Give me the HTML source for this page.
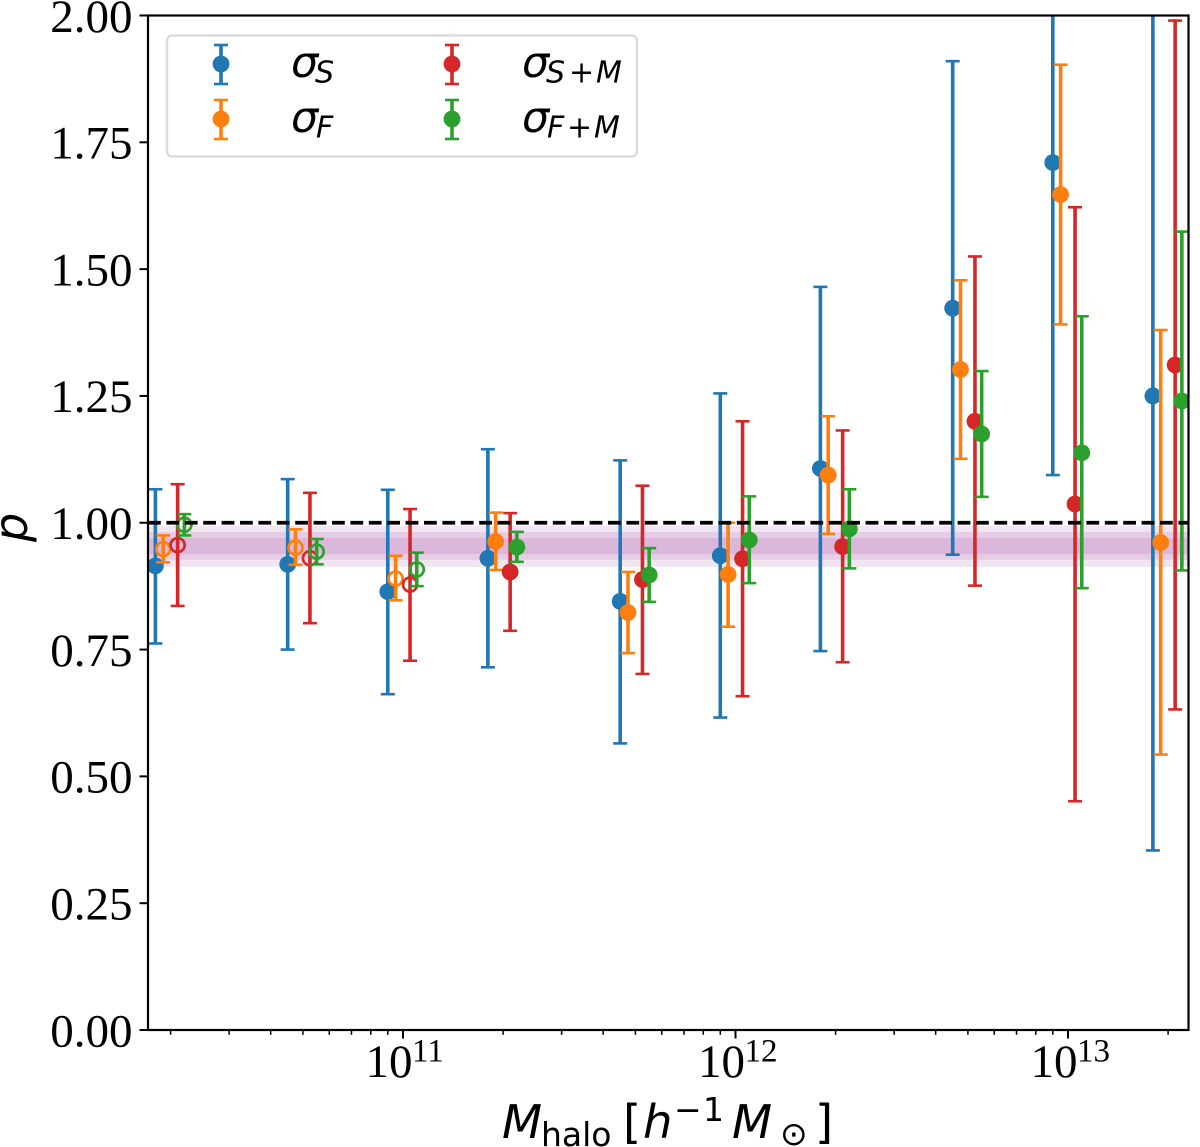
<!DOCTYPE html>
<html lang="en">
<head>
<meta charset="utf-8">
<title>p versus halo mass</title>
<style>
html,body{margin:0;padding:0;background:#fff;width:1200px;height:1147px;overflow:hidden}
svg{display:block}
.tick-label{font-family:"Liberation Serif",serif;font-size:47px;fill:#000}
.tick-exp{font-family:"Liberation Serif",serif;font-size:33px;fill:#000}
.math{font-family:"DejaVu Sans",sans-serif;fill:#000}
.it{font-style:italic}
</style>
</head>
<body>
<svg id="chart" xmlns="http://www.w3.org/2000/svg" width="1200" height="1147" viewBox="0 0 1200 1147">
  <defs>
    <clipPath id="plot-clip"><rect x="148" y="15.5" width="1040.5" height="1014.5"/></clipPath>
  </defs>
  <rect x="0" y="0" width="1200" height="1147" fill="#fff"/>
  <g id="bands" clip-path="url(#plot-clip)"></g>
  <g id="series" clip-path="url(#plot-clip)"></g>
  <line id="ref-line" stroke="#000" stroke-width="3.8" stroke-dasharray="12.8 5.6"/>
  <g id="ticks"></g>
  <rect x="148" y="15.5" width="1040.5" height="1014.5" fill="none" stroke="#000" stroke-width="2.2"/>

  <g>
    <rect x="167" y="35.5" width="470" height="121" rx="5" ry="5" fill="#fff" fill-opacity="0.8" stroke="#dcdcdc" stroke-width="2.4"/>
    <g>
      <line x1="221" x2="221" y1="45" y2="84" stroke="#1f77b4" stroke-width="3.6"/>
      <line x1="214" x2="228" y1="45" y2="45" stroke="#1f77b4" stroke-width="2.6"/>
      <line x1="214" x2="228" y1="84" y2="84" stroke="#1f77b4" stroke-width="2.6"/>
      <circle cx="221" cy="64" r="8.4" fill="#1f77b4"/>
      <text class="math it" x="291" y="77" font-size="43">σ</text>
      <text class="math it" x="315" y="82.7" font-size="30">S</text>
    </g>
    <g>
      <line x1="221" x2="221" y1="100" y2="139" stroke="#ff7f0e" stroke-width="3.6"/>
      <line x1="214" x2="228" y1="100" y2="100" stroke="#ff7f0e" stroke-width="2.6"/>
      <line x1="214" x2="228" y1="139" y2="139" stroke="#ff7f0e" stroke-width="2.6"/>
      <circle cx="221" cy="119" r="8.4" fill="#ff7f0e"/>
      <text class="math it" x="291" y="132" font-size="43">σ</text>
      <text class="math it" x="316" y="137.7" font-size="30">F</text>
    </g>
    <g>
      <line x1="452" x2="452" y1="45" y2="84" stroke="#d62728" stroke-width="3.6"/>
      <line x1="445" x2="459" y1="45" y2="45" stroke="#d62728" stroke-width="2.6"/>
      <line x1="445" x2="459" y1="84" y2="84" stroke="#d62728" stroke-width="2.6"/>
      <circle cx="452" cy="64" r="8.4" fill="#d62728"/>
      <text class="math it" x="522" y="77" font-size="43">σ</text>
      <text class="math it" x="546" y="82.7" font-size="30">S</text>
      <text class="math" x="569" y="82.7" font-size="30">+</text>
      <text class="math it" x="596" y="82.7" font-size="30">M</text>
    </g>
    <g>
      <line x1="452" x2="452" y1="100" y2="139" stroke="#2ca02c" stroke-width="3.6"/>
      <line x1="445" x2="459" y1="100" y2="100" stroke="#2ca02c" stroke-width="2.6"/>
      <line x1="445" x2="459" y1="139" y2="139" stroke="#2ca02c" stroke-width="2.6"/>
      <circle cx="452" cy="119" r="8.4" fill="#2ca02c"/>
      <text class="math it" x="522" y="132" font-size="43">σ</text>
      <text class="math it" x="547" y="137.7" font-size="30">F</text>
      <text class="math" x="567" y="137.7" font-size="30">+</text>
      <text class="math it" x="594" y="137.7" font-size="30">M</text>
    </g>
  </g>

  <g>
    <text class="math it" x="502" y="1138" font-size="46.5">M</text>
    <text class="math" x="541" y="1146" font-size="33">halo</text>
    <text class="math" x="623" y="1138" font-size="46.5">[</text>
    <text class="math it" x="643" y="1138" font-size="46.5">h</text>
    <text class="math" x="674" y="1121" font-size="33">−</text>
    <text class="math" x="703" y="1121" font-size="33">1</text>
    <text class="math it" x="732" y="1138" font-size="46.5">M</text>
    <text class="math" x="780" y="1145" font-size="33">⊙</text>
    <text class="math" x="815" y="1138" font-size="46.5">]</text>
  </g>
  <text class="math it" font-size="46" transform="translate(27,542) rotate(-90)">p</text>
</svg>

<script>
// Halo-mass bins per series (h^-1 Msun)
const massS  = [1.8e10, 4.5e10, 9e10, 1.8e11, 4.5e11, 9e11, 1.8e12, 4.5e12, 9e12, 1.8e13];
const massF  = [1.9e10, 4.75e10, 9.5e10, 1.9e11, 4.75e11, 9.5e11, 1.9e12, 4.75e12, 9.5e12, 1.9e13];
const massSM = [2.1e10, 5.25e10, 1.05e11, 2.1e11, 5.25e11, 1.05e12, 2.1e12, 5.25e12, 1.05e13, 2.1e13];
const massFM = [2.2e10, 5.5e10, 1.1e11, 2.2e11, 5.5e11, 1.1e12, 2.2e12, 5.5e12, 1.1e13, 2.2e13];

// sigma_S
const valueS = [0.915, 0.918, 0.864, 0.930, 0.845, 0.935, 1.107, 1.423, 1.710, 1.250];
const lowS   = [0.762, 0.750, 0.662, 0.715, 0.565, 0.616, 0.747, 0.937, 1.094, 0.354];
const highS  = [1.066, 1.086, 1.065, 1.145, 1.123, 1.255, 1.465, 1.910, 2.330, 2.150];
// sigma_F
const valueF = [0.948, 0.951, 0.890, 0.963, 0.823, 0.898, 1.094, 1.302, 1.647, 0.961];
const lowF   = [0.922, 0.917, 0.847, 0.907, 0.743, 0.795, 0.978, 1.126, 1.391, 0.543];
const highF  = [0.975, 0.987, 0.935, 1.020, 0.903, 1.000, 1.210, 1.478, 1.903, 1.380];
// sigma_S+M
const valueSM = [0.956, 0.930, 0.878, 0.903, 0.888, 0.929, 0.953, 1.200, 1.037, 1.311];
const lowSM   = [0.836, 0.802, 0.728, 0.787, 0.702, 0.658, 0.725, 0.876, 0.451, 0.632];
const highSM  = [1.076, 1.059, 1.027, 1.019, 1.073, 1.200, 1.182, 1.525, 1.622, 1.990];
// sigma_F+M
const valueFM = [0.996, 0.943, 0.908, 0.952, 0.897, 0.966, 0.988, 1.175, 1.138, 1.240];
const lowFM   = [0.975, 0.918, 0.875, 0.923, 0.844, 0.881, 0.910, 1.051, 0.871, 0.906];
const highFM  = [1.017, 0.968, 0.941, 0.982, 0.950, 1.052, 1.066, 1.299, 1.407, 1.574];

// Number of leading bins drawn as open markers per series
const openCountS = 0;
const openCountF = 3;
const openCountSM = 3;
const openCountFM = 3;

// Shaded bands as [lower, upper]
const bandLow  = [0.913, 0.927, 0.938];
const bandHigh = [0.994, 0.982, 0.970];
const referenceValue = 1.0;

// Axis ticks
const yTickValues = [0, 0.25, 0.5, 0.75, 1, 1.25, 1.5, 1.75, 2];
const yTickLabels = ["0.00", "0.25", "0.50", "0.75", "1.00", "1.25", "1.50", "1.75", "2.00"];
const xMajorExponents = [11, 12, 13];
const xMinorDecades = [10, 11, 12, 13];
const xMinorMultipliers = [2, 3, 4, 5, 6, 7, 8, 9];

const SVGNS = "http://www.w3.org/2000/svg";
const PLOT = { left: 148, right: 1188.5, top: 15.5, bottom: 1030 };
const X_11 = 403, X_DECADE = 332.5;

function xScale(mass) { return X_11 + (Math.log10(mass) - 11) * X_DECADE; }
function yScale(p) { return PLOT.bottom - (p / 2) * (PLOT.bottom - PLOT.top); }

function make(tag, attrs, parent) {
  const el = document.createElementNS(SVGNS, tag);
  Object.keys(attrs).forEach(function (k) { el.setAttribute(k, attrs[k]); });
  parent.appendChild(el);
  return el;
}

// Bands
const bandsGroup = document.getElementById("bands");
bandLow.forEach(function (lo, i) {
  const el = make("rect", {
    x: PLOT.left, width: PLOT.right - PLOT.left,
    y: yScale(bandHigh[i]), height: yScale(lo) - yScale(bandHigh[i]),
    fill: "#800080", "fill-opacity": 0.1
  }, bandsGroup);
  
  
});

// Series
function drawSeries(key, color, mass, value, low, high, openCount) {
  const seriesGroup = document.getElementById("series");
  const g = make("g", {}, seriesGroup);
  
  
  mass.forEach(function (m, i) {
    const x = xScale(m), yLo = yScale(low[i]), yHi = yScale(high[i]), y = yScale(value[i]);
    const bar = make("line", { x1: x, x2: x, y1: yLo, y2: yHi, stroke: color, "stroke-width": 3.6 }, g);
    
    
    [yLo, yHi].forEach(function (yc) {
      const cap = make("line", { x1: x - 7, x2: x + 7, y1: yc, y2: yc, stroke: color, "stroke-width": 2.6 }, g);
      
      
    });
    const isOpen = i < openCount;
    const point = make("circle", {
      cx: x, cy: y, r: isOpen ? 7 : 8.4,
      fill: isOpen ? "none" : color,
      stroke: isOpen ? color : "none",
      "stroke-width": isOpen ? 2.7 : 0
    }, g);
    
    
  });
}
drawSeries("sigma-s", "#1f77b4", massS, valueS, lowS, highS, openCountS);
drawSeries("sigma-f", "#ff7f0e", massF, valueF, lowF, highF, openCountF);
drawSeries("sigma-s-m", "#d62728", massSM, valueSM, lowSM, highSM, openCountSM);
drawSeries("sigma-f-m", "#2ca02c", massFM, valueFM, lowFM, highFM, openCountFM);

// Reference line
const refLine = document.getElementById("ref-line");
refLine.setAttribute("x1", PLOT.left);
refLine.setAttribute("x2", PLOT.right);
refLine.setAttribute("y1", yScale(referenceValue));
refLine.setAttribute("y2", yScale(referenceValue));

// Ticks
const ticksGroup = document.getElementById("ticks");
yTickValues.forEach(function (v, i) {
  const y = yScale(v);
  const t = make("line", { x1: PLOT.left - 8.5, x2: PLOT.left, y1: y, y2: y, stroke: "#000", "stroke-width": 2 }, ticksGroup);
  
  
  const label = make("text", { x: 132.5, y: y + 16.3, "text-anchor": "end", class: "tick-label" }, ticksGroup);
  label.textContent = yTickLabels[i];
  
  
});
xMajorExponents.forEach(function (e) {
  const x = xScale(Math.pow(10, e));
  const t = make("line", { x1: x, x2: x, y1: PLOT.bottom, y2: PLOT.bottom + 8.5, stroke: "#000", "stroke-width": 2 }, ticksGroup);
  
  
  const base = make("text", { x: x - 37.5, y: 1077, class: "tick-label" }, ticksGroup);
  base.textContent = "10";
  
  
  const exp = make("text", { x: x + 9, y: 1061.5, class: "tick-exp" }, ticksGroup);
  exp.textContent = String(e);
  
  
});
xMinorDecades.forEach(function (d) {
  xMinorMultipliers.forEach(function (m) {
    const x = xScale(m * Math.pow(10, d));
    if (x < PLOT.left || x > PLOT.right) return;
    const t = make("line", { x1: x, x2: x, y1: PLOT.bottom, y2: PLOT.bottom + 4.8, stroke: "#000", "stroke-width": 1.5 }, ticksGroup);
    
    
  });
});
</script>
</body>
</html>
